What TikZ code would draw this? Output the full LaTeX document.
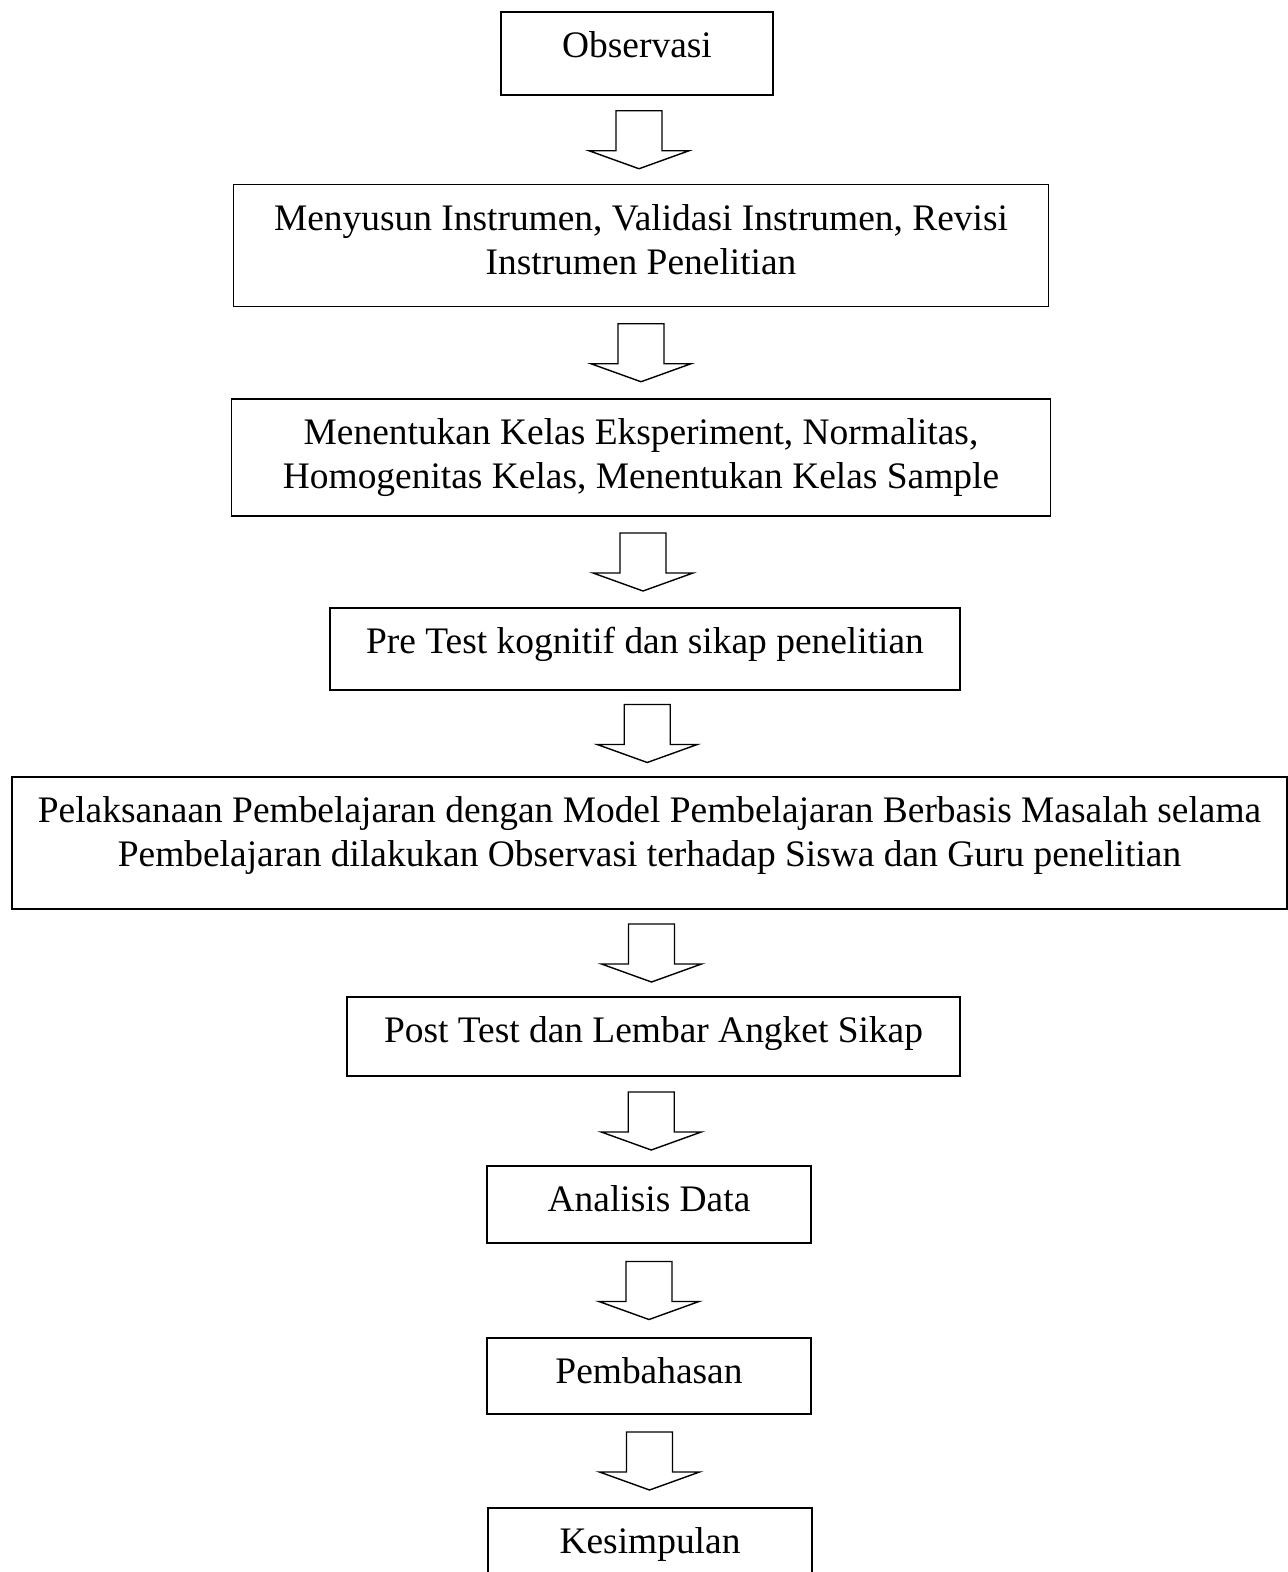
\documentclass[tikz,border=0pt]{standalone}
\usepackage{fontspec}
\setmainfont{Liberation Serif}
\usetikzlibrary{calc}

\begin{document}
\begin{tikzpicture}[
    box/.style={rectangle, draw, line width=1pt, align=center, inner sep=0pt, text height=0.91cm, font=\fontsize{21.3}{25}\selectfont},
    barrow/.style={draw, line width=0.8pt, line join=miter}
]
    \useasboundingbox (0,0) rectangle (25.76,-31.44);
    \clip (0,0) rectangle (25.76,-31.44);

    % Steps
    \node[box, minimum width=5.44cm, minimum height=1.66cm, text depth=0.75cm] (obs) at (12.74,-1.07) {Observasi};
    \node[box, minimum width=16.30cm, minimum height=2.44cm, text height=1.79cm, text depth=0.65cm] (ins) at (12.82,-4.91) {Menyusun Instrumen, Validasi Instrumen, Revisi\\Instrumen Penelitian};
    \node[box, minimum width=16.38cm, minimum height=2.34cm, text height=1.79cm, text depth=0.55cm] (kls) at (12.82,-9.15) {Menentukan Kelas Eksperiment, Normalitas,\\Homogenitas Kelas, Menentukan Kelas Sample};
    \node[box, minimum width=12.60cm, minimum height=1.64cm, text depth=0.73cm] (pre) at (12.90,-12.98) {Pre Test kognitif dan sikap penelitian};
    \node[box, minimum width=25.50cm, minimum height=2.64cm, text height=1.79cm, text depth=0.85cm] (pel) at (12.99,-16.86) {Pelaksanaan Pembelajaran dengan Model Pembelajaran Berbasis Masalah selama\\Pembelajaran dilakukan Observasi terhadap Siswa dan Guru penelitian};
    \node[box, minimum width=12.26cm, minimum height=1.58cm, text depth=0.67cm] (post) at (13.07,-20.73) {Post Test dan Lembar Angket Sikap};
    \node[box, minimum width=6.48cm, minimum height=1.54cm, text depth=0.63cm] (ana) at (12.98,-24.09) {Analisis Data};
    \node[box, minimum width=6.48cm, minimum height=1.52cm, text depth=0.61cm] (bhs) at (12.98,-27.52) {Pembahasan};
    \node[box, minimum width=6.48cm, minimum height=1.54cm, text depth=0.63cm] (kes) at (13.00,-30.93) {Kesimpulan};

    % Block arrows between steps
    \foreach \a/\b in {obs/ins, ins/kls, kls/pre, pre/pel, pel/post, post/ana, ana/bhs, bhs/kes} {
        \coordinate (m) at ($(\a.south)!0.5!(\b.north)$);
        \draw[barrow] ($(m)+(-0.46,0.58)$) -- ($(m)+(-0.46,-0.22)$) -- ($(m)+(-1.0,-0.22)$)
            -- ($(m)+(0,-0.58)$) -- ($(m)+(1.0,-0.22)$) -- ($(m)+(0.46,-0.22)$)
            -- ($(m)+(0.46,0.58)$) -- cycle;
    }
\end{tikzpicture}
\end{document}
